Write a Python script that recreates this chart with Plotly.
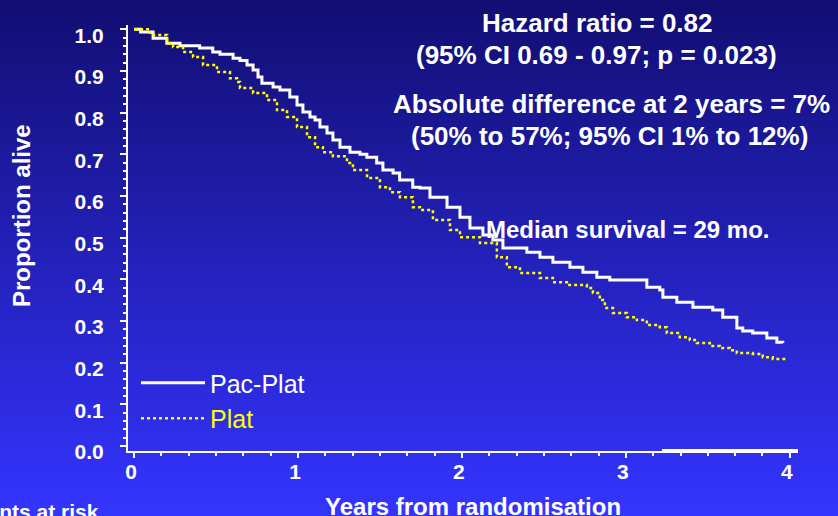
import plotly.graph_objects as go

# ---- data ----
pac_years = [0, 0.04, 0.116, 0.2, 0.28, 0.40, 0.48, 0.524, 0.604, 0.646, 0.689, 0.726, 0.756, 0.78,
             0.848, 0.89, 0.95, 0.994, 1.03, 1.073, 1.104, 1.134, 1.177, 1.213, 1.256, 1.317, 1.378,
             1.42, 1.48, 1.518, 1.58, 1.62, 1.70, 1.744, 1.805, 1.909, 1.988, 2.049, 2.128, 2.189,
             2.25, 2.396, 2.476, 2.555, 2.659, 2.738, 2.823, 2.902, 3.085, 3.128, 3.207, 3.226, 3.287,
             3.311, 3.372, 3.409, 3.53, 3.591, 3.677, 3.713, 3.774, 3.86, 3.921, 3.957]
pac_surv = [1.0, 0.993, 0.978, 0.966, 0.96, 0.955, 0.945, 0.940, 0.930, 0.925, 0.914, 0.902, 0.885, 0.87,
            0.861, 0.854, 0.837, 0.818, 0.801, 0.789, 0.782, 0.765, 0.751, 0.734, 0.717, 0.705, 0.700,
            0.693, 0.679, 0.662, 0.655, 0.638, 0.621, 0.619, 0.597, 0.573, 0.549, 0.523, 0.506, 0.494,
            0.475, 0.465, 0.453, 0.441, 0.429, 0.417, 0.405, 0.398, 0.398, 0.381, 0.374, 0.357, 0.357,
            0.345, 0.345, 0.333, 0.326, 0.309, 0.283, 0.276, 0.271, 0.259, 0.249, 0.247]

plat_years = [0, 0.098, 0.201, 0.238, 0.299, 0.36, 0.421, 0.506, 0.585, 0.628, 0.646, 0.726, 0.811,
              0.872, 0.933, 0.994, 1.055, 1.104, 1.152, 1.213, 1.299, 1.335, 1.421, 1.50, 1.561, 1.622,
              1.701, 1.744, 1.823, 1.927, 1.988, 2.11, 2.213, 2.274, 2.354, 2.476, 2.555, 2.64, 2.762,
              2.799, 2.841, 2.872, 2.921, 3.006, 3.067, 3.128, 3.207, 3.25, 3.329, 3.39, 3.433, 3.512,
              3.573, 3.634, 3.677, 3.774, 3.835, 3.896, 3.982]
plat_surv = [1.0, 0.986, 0.966, 0.957, 0.945, 0.933, 0.914, 0.897, 0.882, 0.873, 0.859, 0.847, 0.830,
             0.806, 0.789, 0.765, 0.741, 0.717, 0.705, 0.695, 0.679, 0.662, 0.643, 0.621, 0.609, 0.597,
             0.573, 0.566, 0.542, 0.518, 0.501, 0.487, 0.453, 0.429, 0.415, 0.403, 0.393, 0.386, 0.379,
             0.367, 0.350, 0.331, 0.319, 0.309, 0.302, 0.290, 0.285, 0.271, 0.261, 0.254, 0.247, 0.240,
             0.235, 0.230, 0.223, 0.221, 0.213, 0.209, 0.206]

series_names = ["Pac-Plat", "Plat"]
x_ticks = [0, 1, 2, 3, 4]
y_ticks = [0.0, 0.1, 0.2, 0.3, 0.4, 0.5, 0.6, 0.7, 0.8, 0.9, 1.0]

FONT = "Liberation Sans, Arial, sans-serif"
W, H = 838, 516
ML, MR, MT, MB = 128, 40, 25, 65

fig = go.Figure()
fig.add_trace(go.Scatter(
    x=pac_years, y=pac_surv, mode="lines", line_shape="hv",
    line=dict(color="#ffffff", width=3),
    name="<span style='color:#ffffff'>" + series_names[0] + "</span>"))
fig.add_trace(go.Scatter(
    x=plat_years, y=plat_surv, mode="lines", line_shape="hv",
    line=dict(color="#ffff00", width=2.5, dash="dot"),
    name="<span style='color:#ffff00'>" + series_names[1] + "</span>"))

# gradient background as stacked bands
pw = W - ML - MR
ph = H - MT - MB
top_c = (18, 14, 115)
bot_c = (52, 52, 255)
N = 80
y_top = 1 + MT / ph
y_bot = -MB / ph
shapes = []
for i in range(N):
    t = i / (N - 1)
    c = tuple(int(round(top_c[k] + (bot_c[k] - top_c[k]) * t)) for k in range(3))
    y1 = y_top - (y_top - y_bot) * i / N
    y0 = y_top - (y_top - y_bot) * (i + 1) / N
    shapes.append(dict(type="rect", xref="paper", yref="paper",
                       x0=-ML / pw, x1=1 + MR / pw, y0=y0 - 0.002, y1=y1 + 0.002,
                       fillcolor="rgb(%d,%d,%d)" % c, line=dict(width=0), layer="below"))
# thick segment on the time axis (artifact of the original)
shapes.append(dict(type="line", xref="x", yref="paper", x0=3.22, x1=4.05, y0=0, y1=0,
                   line=dict(color="#ffffff", width=4), layer="above"))


def px_x(px):
    return (px - ML) / pw


def px_y(py):
    return 1 - (py - MT) / ph


annots = [
    dict(text="Hazard ratio = 0.82", x=597, y=23, size=26),
    dict(text="(95% CI 0.69 - 0.97; p = 0.023)", x=596, y=55, size=26),
    dict(text="Absolute difference at 2 years = 7%", x=611, y=104, size=26),
    dict(text="(50% to 57%; 95% CI 1% to 12%)", x=609, y=136, size=26),
    dict(text="Median survival = 29 mo.", x=627, y=230, size=24),
]
annotations = []
for a in annots:
    annotations.append(dict(text="<b>" + a["text"] + "</b>", xref="paper", yref="paper",
                            x=px_x(a["x"]), y=px_y(a["y"]),
                            xanchor="center", yanchor="middle", showarrow=False,
                            font=dict(family=FONT, size=a["size"], color="#ffffff")))
annotations.append(dict(text="<b>Patients at risk</b>", xref="paper", yref="paper",
                        x=px_x(101), y=px_y(511), xanchor="right", yanchor="middle",
                        showarrow=False, font=dict(family=FONT, size=21, color="#ffffff")))
# axis titles
annotations.append(dict(text="<b>Proportion alive</b>", xref="paper", yref="paper",
                        x=px_x(22), y=px_y(216), xanchor="center", yanchor="middle",
                        textangle=-90, showarrow=False,
                        font=dict(family=FONT, size=24, color="#ffffff")))
annotations.append(dict(text="<b>Years from randomisation</b>", xref="paper", yref="paper",
                        x=px_x(473), y=px_y(507), xanchor="center", yanchor="middle",
                        showarrow=False, font=dict(family=FONT, size=24, color="#ffffff")))

fig.update_layout(
    width=W, height=H,
    margin=dict(l=ML, r=MR, t=MT, b=MB),
    paper_bgcolor="rgb(35,33,185)",
    plot_bgcolor="rgba(0,0,0,0)",
    shapes=shapes,
    annotations=annotations,
    showlegend=True,
    legend=dict(x=px_x(136), y=px_y(360), xanchor="left", yanchor="top", bgcolor="rgba(0,0,0,0)",
                font=dict(family=FONT, size=25, color="#ffffff"), itemwidth=64,
                tracegroupgap=0),
    xaxis=dict(range=[-0.037, 4.05], tickvals=x_ticks, ticktext=[str(v) for v in x_ticks],
               showgrid=False, zeroline=False, showline=True, linecolor="#ffffff", linewidth=2,
               ticks="outside", ticklen=5, tickwidth=2, tickcolor="#ffffff",
               minor=dict(dtick=1 / 6, ticks="outside", ticklen=3, tickwidth=1.5, tickcolor="#ffffff",
                          showgrid=False),
               tickfont=dict(family=FONT, size=21, color="#ffffff", weight="bold"),
               ticklabelstandoff=-4, ticklabelshift=-3),
    yaxis=dict(range=[-0.012, 1.01], tickvals=y_ticks, ticktext=["%.1f" % v for v in y_ticks],
               showgrid=False, zeroline=False, showline=True, linecolor="#ffffff", linewidth=2,
               ticks="outside", ticklen=6, tickwidth=2, tickcolor="#ffffff",
               minor=dict(dtick=0.02, ticks="outside", ticklen=3, tickwidth=1.5, tickcolor="#ffffff",
                          showgrid=False),
               tickfont=dict(family=FONT, size=21, color="#ffffff", weight="bold"),
               ticklabelstandoff=12, ticklabelshift=6),
)

fig.write_html("out.html", config={"displayModeBar": False},
               post_script="document.body.style.margin='0';document.body.style.overflow='hidden';"
                           "document.body.style.background='rgb(52,52,255)';")
